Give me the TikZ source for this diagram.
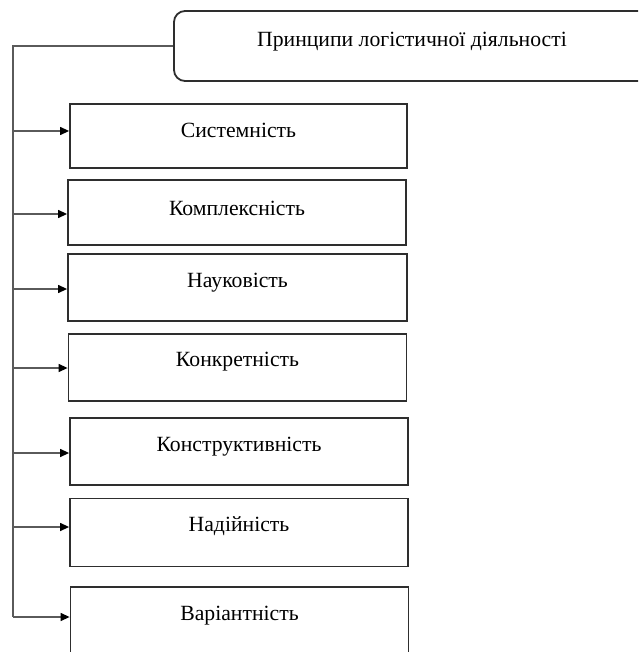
\documentclass[tikz,border=0pt]{standalone}
\usepackage{fontspec}
\setmainfont{Liberation Serif}
\usetikzlibrary{arrows.meta}
\definecolor{boxline}{HTML}{2E2E2E}
\definecolor{conline}{HTML}{5A5A5A}
\tikzset{
  prbox/.style={draw=boxline, line width=1.8pt, rectangle, inner sep=0pt},
  headbox/.style={draw=boxline, line width=1.8pt, rectangle, rounded corners=11pt, inner sep=0pt},
  prtext/.style={font=\fontsize{21.7}{25}\selectfont, inner sep=0pt, text=black},
  conn/.style={draw=conline, line width=1.3pt},
  arr/.style={conn, -{Triangle[length=9pt,width=8pt,color=black]}}
}
\begin{document}
\begin{tikzpicture}[x=1pt,y=-1pt]
\useasboundingbox (0,0) rectangle (638,652);
\clip (0,0) rectangle (638,652);
% header
\node[headbox, minimum width=540pt, minimum height=70pt] (top) at (444,46) {};
\node[prtext] (tt) at (412,42) {Принципи логістичної діяльності};
% boxes
\node[prbox, minimum width=337pt, minimum height=64pt] (b1) at (238.5,136) {};
\node[prbox, minimum width=338pt, minimum height=65pt] (b2) at (237,212.5) {};
\node[prbox, minimum width=339pt, minimum height=67pt] (b3) at (237.5,287.5) {};
\node[prbox, minimum width=338pt, minimum height=67pt] (b4) at (237.5,367.5) {};
\node[prbox, minimum width=338pt, minimum height=67pt] (b5) at (239,451.5) {};
\node[prbox, minimum width=338pt, minimum height=68pt] (b6) at (239,532.5) {};
\node[prbox, minimum width=338pt, minimum height=67pt] (b7) at (239.5,620.5) {};
% texts
\node[prtext] (t1) at (238.5,130.5) {Системність};
\node[prtext] (t2) at (237,208.5) {Комплексність};
\node[prtext] (t3) at (237.5,282.5) {Науковість};
\node[prtext] (t4) at (237.5,361.5) {Конкретність};
\node[prtext] (t5) at (239,446.5) {Конструктивність};
\node[prtext] (t6) at (239,526.5) {Надійність};
\node[prtext] (t7) at (239.5,616) {Варіантність};
% trunk
\coordinate (corner) at (13,46);
\coordinate (j1) at (13,131);
\coordinate (j2) at (13,214);
\coordinate (j3) at (13,289);
\coordinate (j4) at (13,368);
\coordinate (j5) at (13,453);
\coordinate (j6) at (13,527);
\coordinate (j7) at (13,617);
\draw[conn] (top.west) -- (corner) -- (j7);
\draw[arr] (j1) -- (j1 -| b1.west);
\draw[arr] (j2) -- (j2 -| b2.west);
\draw[arr] (j3) -- (j3 -| b3.west);
\draw[arr] (j4) -- (j4 -| b4.west);
\draw[arr] (j5) -- (j5 -| b5.west);
\draw[arr] (j6) -- (j6 -| b6.west);
\draw[arr] (j7) -- (j7 -| b7.west);
\end{tikzpicture}
\end{document}
